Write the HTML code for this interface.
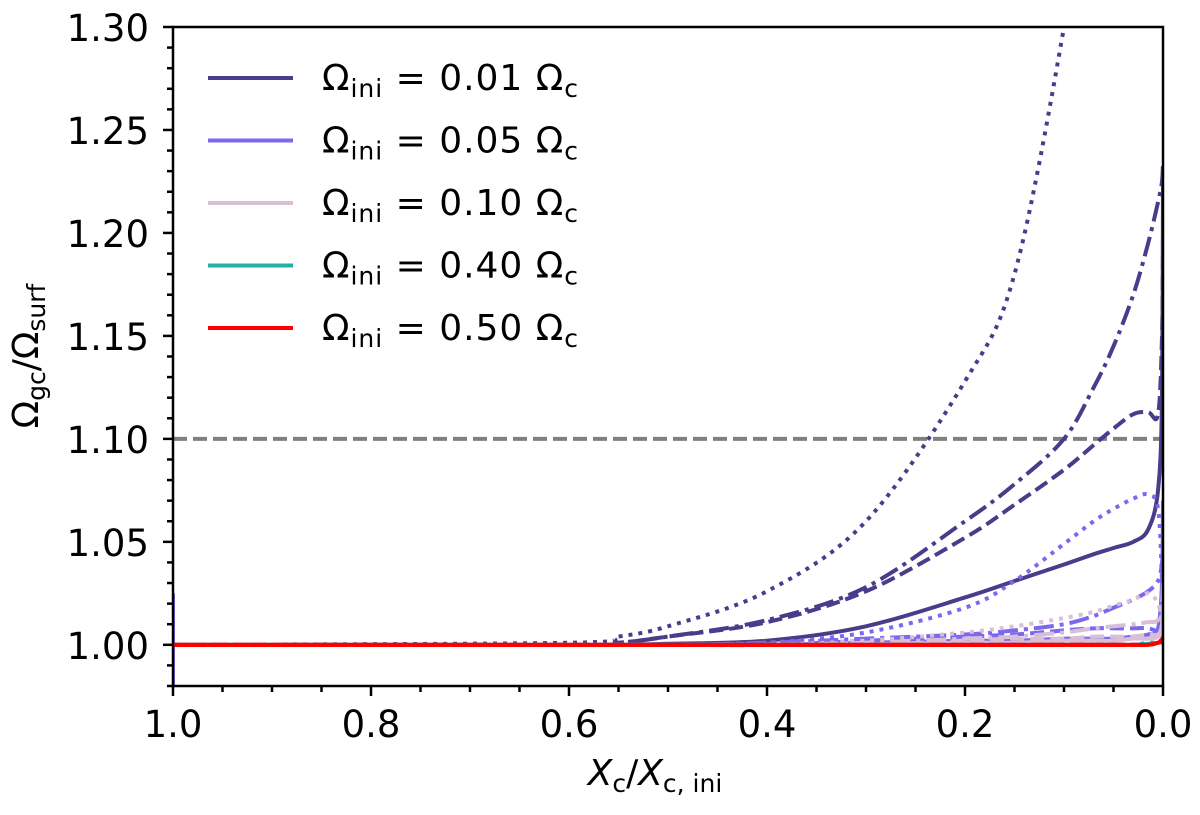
<!DOCTYPE html>
<html><head><meta charset="utf-8"><style>
body{margin:0;background:#fff;}
svg text{font-family:"DejaVu Sans","Liberation Sans",sans-serif;fill:#000;}
</style></head><body>
<svg id="c" width="1200" height="810" xmlns="http://www.w3.org/2000/svg">
<defs><clipPath id="clip"><rect x="173" y="27" width="990" height="659"/></clipPath></defs>
<g id="plot" clip-path="url(#clip)"></g>
<g id="axes"></g>
<g id="legend"></g>
</svg>
<script>
const xs = [1, 0.6, 0.55, 0.5, 0.4, 0.3, 0.2, 0.15, 0.1, 0.07, 0.05, 0.03, 0.015, 0.005, 0.001, 0];
const omegaLabels = ["0.01","0.05","0.10","0.40","0.50"];
const colors = ["#483d8b","#7b68ee","#d8bfd8","#20b2aa","#ff0000"];
const styles = ["solid","dashed","dashdot","dotted"];
const s01 = {
 solid:  [1,1.0,1.0,1.0005,1.002,1.009,1.023,1.031,1.039,1.044,1.047,1.050,1.056,1.075,1.12,1.23],
 dashed: [1,1.0,1.001,1.004,1.011,1.026,1.052,1.068,1.085,1.097,1.105,1.112,1.113,1.112,1.15,1.2],
 dashdot:[1,1.0,1.001,1.004,1.012,1.028,1.060,1.078,1.100,1.125,1.145,1.170,1.195,1.215,1.225,1.235],
 dotted: [1,1.001,1.004,1.009,1.026,1.06,1.128,1.18,1.30,1.4,1.5,1.6,1.7,1.8,1.9,2]
};
const s05 = {
 solid:  [1,1,1,1,1,1.001,1.002,1.002,1.003,1.003,1.003,1.004,1.005,1.008,1.03,1.07],
 dashed: [1,1,1,1,1,1.002,1.004,1.005,1.007,1.008,1.008,1.008,1.008,1.006,1.003,1.0],
 dashdot:[1,1,1,1,1.001,1.003,1.005,1.007,1.010,1.014,1.018,1.022,1.026,1.031,1.04,1.05],
 dotted: [1,1,1,1,1.001,1.006,1.018,1.031,1.049,1.060,1.066,1.071,1.073,1.066,1.03,1.0]
};
const s10 = {
 solid:  [1,1,1,1,1,1,1.001,1.001,1.002,1.002,1.002,1.003,1.003,1.004,1.01,1.02],
 dashed: [1,1,1,1,1,1,1.002,1.003,1.003,1.004,1.004,1.004,1.005,1.005,1.01,1.02],
 dashdot:[1,1,1,1,1,1.001,1.003,1.004,1.006,1.008,1.009,1.010,1.011,1.012,1.02,1.03],
 dotted: [1,1,1,1,1,1.002,1.006,1.009,1.013,1.016,1.019,1.022,1.025,1.02,1.01,1.0]
};
const s40 = {
 solid:  [1,1,1,1,1,1,1,1,1,1,1,1,1.0005,1.001,1.002,1.003],
 dashed: [1,1,1,1,1,1,1,1,1,1,1,1,1,1.001,1.002,1.002],
 dashdot:[1,1,1,1,1,1,1,1,1,1,1,1,1,1.001,1.002,1.003],
 dotted: [1,1,1,1,1,1,1,1,1,1,1,1,1.001,1.001,1.002,1.002]
};
const s50 = {
 solid:  [1,1,1,1,1,1,1,1,1,1,1,1,1,1.001,1.002,1.004],
 dashed: [1,1,1,1,1,1,1,1,1,1,1,1,1,1.001,1.002,1.003],
 dashdot:[1,1,1,1,1,1,1,1,1,1,1,1,1,1.001,1.002,1.004],
 dotted: [1,1,1,1,1,1,1,1,1,1,1,1,1,1.001,1.003,1.005]
};
const allSeries = [s01,s05,s10,s40,s50];
const xTicks = [1.0,0.8,0.6,0.4,0.2,0.0];
const yTicks = [1.00,1.05,1.10,1.15,1.20,1.25,1.30];
const refLine = 1.10;

const X0=173,X1=1163,Y0=686,Y1=27, ymin=0.98,ymax=1.30;
const sx=v=>X0+(1-v)*(X1-X0);
const sy=v=>Y0-(v-ymin)/(ymax-ymin)*(Y0-Y1);
const NS="http://www.w3.org/2000/svg";
function mk(tag,attrs,parent){const e=document.createElementNS(NS,tag);for(const k in attrs)e.setAttribute(k,attrs[k]);parent.appendChild(e);return e;}
const dash={solid:"",dashed:"14 6",dashdot:"20 6 4 6",dotted:"4 6"};
function pathD(xv,yv){
 const p=xv.map((x,i)=>[sx(x),sy(yv[i])]);
 let d="M"+p[0][0]+","+p[0][1];
 for(let i=0;i<p.length-1;i++){
  const p0=p[Math.max(0,i-1)],p1=p[i],p2=p[i+1],p3=p[Math.min(p.length-1,i+2)];
  const t=1/6;
  const c1=[p1[0]+(p2[0]-p0[0])*t,p1[1]+(p2[1]-p0[1])*t];
  const c2=[p2[0]-(p3[0]-p1[0])*t,p2[1]-(p3[1]-p1[1])*t];
  d+=" C"+c1.join(",")+" "+c2.join(",")+" "+p2.join(",");
 }
 return d;
}
const plot=document.getElementById('plot');
const ref=mk('line',{x1:X0,x2:X1,y1:sy(refLine),y2:sy(refLine),stroke:"#808080","stroke-width":4,"stroke-dasharray":"14 6"},plot);


const spike=mk('line',{x1:X0+1,x2:X0+1,y1:sy(0.98),y2:sy(1.025),stroke:"#7b68ee","stroke-width":2},plot);


allSeries.forEach((ser,si)=>{
 styles.forEach(st=>{
  const el=mk('path',{d:pathD(xs,ser[st]),fill:"none",stroke:colors[si],"stroke-width":4,"stroke-dasharray":dash[st]},plot);
  
  
 });
});
const axes=document.getElementById('axes');
const frame=mk('rect',{x:X0,y:Y1,width:X1-X0,height:Y0-Y1,fill:"none",stroke:"#000","stroke-width":2.5},axes);


for(let i=0;i<=20;i++){const v=i*0.05;const len=(i%4===0)?10:6;
 mk('line',{x1:sx(v),x2:sx(v),y1:Y0,y2:Y0+len,stroke:"#000","stroke-width":2.5},axes);}
for(let i=0;i<=32;i++){const v=0.98+i*0.01;const major=(i-2)%5===0;
 mk('line',{x1:X0,x2:X0-(major?10:6),y1:sy(v),y2:sy(v),stroke:"#000","stroke-width":2.5},axes);}
xTicks.forEach(v=>{const t=mk('text',{x:sx(v),y:737,"font-size":37,"text-anchor":"middle"},axes);t.textContent=v.toFixed(1);
 
 });
yTicks.forEach(v=>{const t=mk('text',{x:149,y:sy(v)+14,"font-size":37,"text-anchor":"end"},axes);t.textContent=v.toFixed(2);
 
 });
const xl=mk('text',{x:655,y:785,"font-size":36,"text-anchor":"middle"},axes);
xl.innerHTML='<tspan font-style="italic">X</tspan><tspan font-size="25" dy="7">c</tspan><tspan dy="-7">/</tspan><tspan font-style="italic">X</tspan><tspan font-size="25" dy="7">c, ini</tspan>';


const yl=mk('text',{x:0,y:0,"font-size":36,"text-anchor":"middle",transform:"translate(38,356) rotate(-90)"},axes);
yl.innerHTML='Ω<tspan font-size="25" dy="7">gc</tspan><tspan dy="-7">/Ω</tspan><tspan font-size="25" dy="7">surf</tspan>';


const leg=document.getElementById('legend');
omegaLabels.forEach((lab,i)=>{
 const y=78+i*62.5;
 const l=mk('line',{x1:208,x2:293,y1:y,y2:y,stroke:colors[i],"stroke-width":4},leg);
 
 
 const t=mk('text',{x:322,y:y+12,"font-size":36,textLength:256,lengthAdjust:"spacing"},leg);
 t.innerHTML='Ω<tspan font-size="25" dy="7">ini</tspan><tspan dy="-7"> = '+lab+' Ω</tspan><tspan font-size="25" dy="7">c</tspan>';
 
 
});
</script>
</body></html>
